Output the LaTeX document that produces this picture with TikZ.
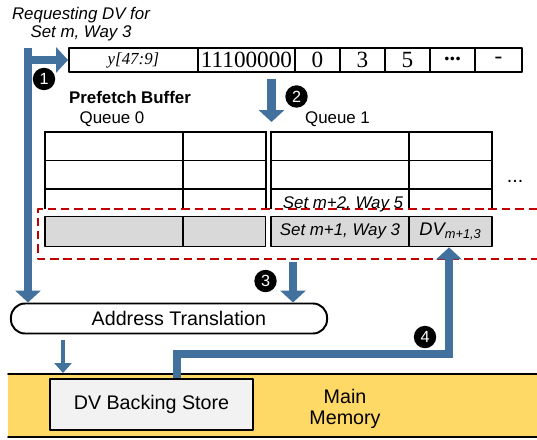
\documentclass[tikz,border=0pt]{standalone}
\usepackage{fontspec}
\setmainfont{Liberation Sans}
\newfontfamily\regfont{Liberation Serif}
\usetikzlibrary{arrows.meta, calc}

\definecolor{flowblue}{HTML}{41719C}
\definecolor{bufred}{HTML}{C00000}
\definecolor{memyellow}{HTML}{FFD966}
\definecolor{slotgray}{HTML}{D9D9D9}
\definecolor{storegray}{HTML}{F2F2F2}

\begin{document}
\begin{tikzpicture}[x=0.025cm, y=-0.025cm, line cap=round, line join=round,
	flow/.style={draw=flowblue, line width=6.2pt, line cap=butt, line join=miter,
		-{Triangle[width=17.8pt, length=8.5pt]}},
	thinflow/.style={draw=flowblue, line width=2.8pt, line cap=butt,
		-{Triangle[width=12pt, length=7pt]}},
	regcell/.style={draw, line width=1.4pt, minimum height=0.6cm, inner sep=0pt,
		font=\regfont\fontsize{16.5}{18}\selectfont},
	slot/.style={draw, fill=slotgray, line width=1pt, minimum height=0.75cm, inner sep=0pt,
		font=\fontsize{12}{14}\selectfont\itshape},
	tableline/.style={line width=1.4pt, line cap=rect},
	num/.style={circle, fill=black, text=white, inner sep=0pt, minimum size=0.56cm,
		font=\fontsize{11.5}{12}\selectfont}]
	
	\useasboundingbox (0,0) rectangle (537,439);
	
	% ===== Main memory band with the backing store =====
	\fill[memyellow] (8,374) rectangle (537,437);
	\draw[line width=1.2pt] (8,374) -- (537,374);
	\draw[line width=1.2pt] (8,437) -- (537,437);
	\node[align=center, font=\fontsize{14}{14.5}\selectfont] at (345,409) {Main\\Memory};
	\node[draw, fill=storegray, line width=1.6pt, minimum width=5.075cm, minimum height=1.275cm,
	font=\fontsize{14}{16}\selectfont] (bs) at (151.5,404.5) {DV Backing Store};
	
	% ===== Request and address register =====
	\node[align=center, font=\fontsize{12}{12.8}\selectfont\itshape] at (81,24)
	{Requesting DV for\\Set m, Way 3};
	\foreach \nm/\lo/\hi/\txt in {r0/69/198/{\fontsize{12}{12}\selectfont\itshape y[47:9]},
		r1/198/295/11100000, r2/295/340/0, r3/340/385/3, r4/385/430/5,
		r5/430/475/{\bfseries\fontsize{16}{16}\selectfont \raisebox{2pt}{...}}, r6/475/522/-}
	\node[regcell, minimum width={(\hi-\lo)*0.025cm}] (\nm) at ({(\lo+\hi)/2},60) {\txt};
	
	% ===== Prefetch buffer: two queues =====
	\node[font=\fontsize{12}{14}\selectfont\bfseries] at (130,97) {Prefetch Buffer};
	\node[font=\fontsize{12}{14}\selectfont] at (112,119) {Queue 0};
	\node[font=\fontsize{12}{14}\selectfont] at (337.5,119) {Queue 1};
	\foreach \xa/\xb/\xc in {45/183/265.7, 271/409/492}{
		\foreach \yy in {132,160.5,189}
		\draw[tableline] (\xa,\yy) -- (\xc,\yy);
		\foreach \xx in {\xa,\xb,\xc}
		\draw[tableline, line cap=butt] (\xx,132) -- (\xx,209);
	}
	\node[font=\fontsize{14}{14}\selectfont] at (515,181) {...};
	
	% slots fetched for the next sets
	\node[slot, minimum width=3.45cm] (s0a) at (114,231.7) {};
	\node[slot, minimum width=2.07cm] (s0b) at (224.3,231.7) {};
	\node[slot, minimum width=3.45cm] (s1) at (340,231.7) {Set m+1, Way 3};
	\node[slot, minimum width=2.075cm, font=\fontsize{13}{14}\selectfont\itshape] (dv) at (450.5,231.7)
	{DV\textsubscript{m+1,3}};
	\draw[bufred, line width=1.5pt, line cap=butt, dash pattern=on 6pt off 3.5pt]
	(537,209) -- (38,209) -- (38,259) -- (537,259);
	\node[font=\fontsize{12}{14}\selectfont\itshape] (s2) at (343,204) {Set m+2, Way 5};
	
	% ===== Address translation =====
	\node[draw, line width=1.4pt, rounded corners=10pt, minimum width=7.9cm, minimum height=0.75cm,
	inner sep=0pt, font=\fontsize{14}{16}\selectfont] (at) at (169,318.5)
	{\hspace*{14pt}Address Translation};
	
	% ===== Flow arrows =====
	\coordinate (req) at (28,48);
	\coordinate (pf) at (271.5,79);
	\coordinate (q1) at (271.5,122);
	\coordinate (hit) at (293,262);
	\coordinate (mm) at (63,373);
	\coordinate (bsx) at (177,0);
	\coordinate (wb) at (449,354);
	
	\draw[flow] (req) -- (req |- at.north);
	\draw[flow] (req |- r0.west) -- (r0.west);
	\draw[flow] (pf) -- (q1);
	\draw[flow] (hit) -- (hit |- at.north);
	\draw[thinflow] ([yshift=-4pt]at.south -| mm) -- (mm);
	\draw[flow] (bs.north -| bsx) |- (wb) -- (wb |- dv.south);
	
	% step numbers
	\node[num] (n1) at (44,79) {1};
	\node[num] (n2) at (296.5,96.5) {2};
	\node[num] (n3) at (265.5,281) {3};
	\node[num] (n4) at (425,337) {4};
	
\end{tikzpicture}
\end{document}
